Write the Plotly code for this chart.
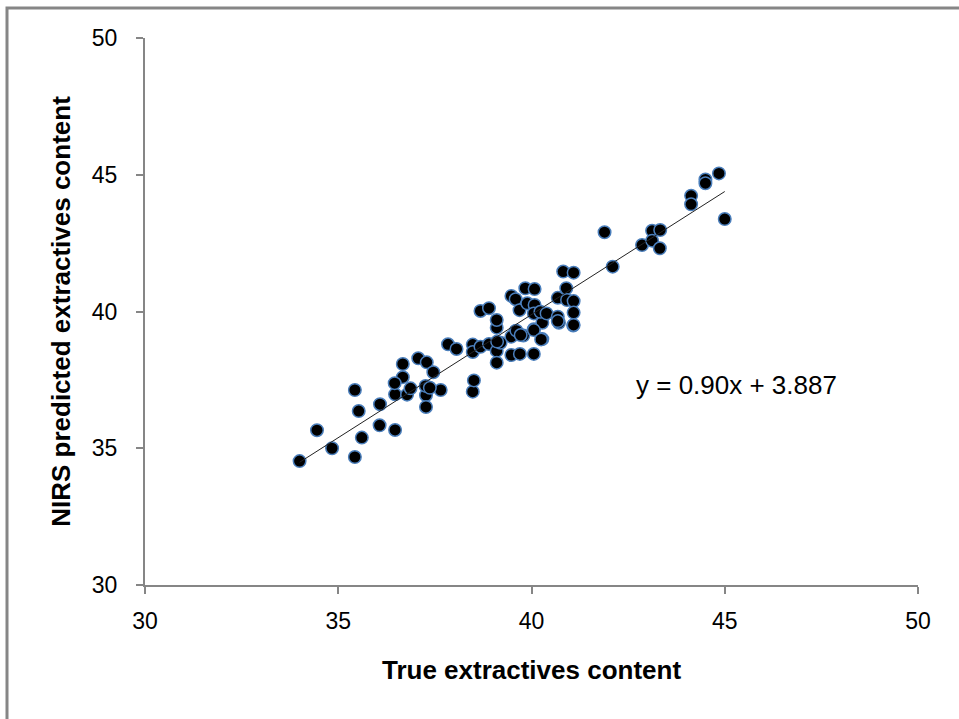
import plotly.graph_objects as go

true_content = [
    34.0, 34.45, 34.84, 35.43, 35.53, 35.61, 35.43, 36.08, 36.07, 36.47, 36.47, 36.78,
    37.27, 37.27, 37.65, 38.48, 36.67, 36.67, 36.46, 36.87, 37.07, 37.29, 37.46, 37.26,
    37.37, 37.84, 38.06, 38.48, 38.48, 38.68, 38.51, 38.90, 39.10, 39.10, 39.10, 39.10,
    39.20, 39.48, 39.70, 40.06, 39.59, 39.79, 40.06, 40.28, 40.28, 40.71, 41.08, 39.11,
    38.68, 38.90, 39.48, 39.61, 39.72, 39.48, 39.59, 39.69, 39.89, 39.84, 40.08, 40.08,
    40.06, 40.23, 40.39, 40.06, 40.25, 40.68, 40.68, 40.68, 40.90, 40.92, 41.09, 41.09,
    41.09, 40.82, 41.09, 41.89, 42.10, 42.86, 43.12, 43.33, 43.12, 43.32, 44.13, 44.13,
    44.50, 44.50, 44.85, 45.0,
]
predicted_content = [
    34.53, 35.66, 35.00, 34.68, 36.36, 35.39, 37.13, 36.61, 35.84, 35.67, 36.97, 36.96,
    36.94, 36.51, 37.13, 37.07, 38.08, 37.60, 37.38, 37.19, 38.29, 38.14, 37.78, 37.28,
    37.21, 38.80, 38.63, 38.79, 38.52, 38.71, 37.48, 38.81, 39.41, 39.69, 38.56, 38.13,
    38.86, 38.41, 38.45, 38.45, 39.29, 39.12, 39.35, 38.99, 39.59, 39.59, 39.49, 38.90,
    40.02, 40.12, 39.08, 39.30, 39.14, 40.57, 40.45, 40.05, 40.30, 40.85, 40.82, 40.24,
    39.93, 39.99, 39.93, 39.32, 38.98, 40.50, 39.81, 39.65, 40.85, 40.42, 40.38, 39.96,
    39.51, 41.46, 41.42, 42.90, 41.64, 42.43, 42.95, 42.98, 42.59, 42.31, 44.23, 43.92,
    44.83, 44.69, 45.05, 43.38,
]

slope = 0.90
intercept = 3.887
equation_label = "y = 0.90x + 3.887"
tick_vals = [30, 35, 40, 45, 50]

x_min, x_max = min(true_content), max(true_content)
trend_x = [x_min, x_max]
trend_y = [slope * v + intercept for v in trend_x]

FONT = "Liberation Sans, Arial"

fig = go.Figure()
fig.add_trace(go.Scatter(
    x=true_content, y=predicted_content, mode="markers",
    marker=dict(size=12.5, color="black", line=dict(color="#4A7EBB", width=1.5)),
    showlegend=False, hoverinfo="x+y",
))
fig.add_trace(go.Scatter(
    x=trend_x, y=trend_y, mode="lines",
    line=dict(color="#222222", width=1), showlegend=False,
))

axis_common = dict(
    range=[30, 50], tickvals=tick_vals, showgrid=False, zeroline=False,
    showline=True, linecolor="#868686", linewidth=2,
    ticks="outside", ticklen=7, tickwidth=2, tickcolor="#868686",
    tickfont=dict(family=FONT, size=23, color="black"),
)

fig.update_layout(
    width=959, height=719, autosize=False,
    margin=dict(l=145, r=41, t=38, b=134),
    plot_bgcolor="white", paper_bgcolor="white",
    xaxis=dict(**axis_common, ticklabelstandoff=7,
               title=dict(text="True extractives content", standoff=28,
                          font=dict(family=FONT, size=26, color="black", weight="bold"))),
    yaxis=dict(**axis_common, ticklabelstandoff=14,
               title=dict(text="NIRS predicted extractives content", standoff=14,
                          font=dict(family=FONT, size=26, color="black", weight="bold"))),
    annotations=[dict(
        x=42.66, y=37.31, xref="x", yref="y", xanchor="left", yanchor="middle",
        text=equation_label, showarrow=False,
        font=dict(family=FONT, size=26, color="black"),
    )],
    shapes=[dict(
        type="rect", xref="paper", yref="paper",
        x0=(7 - 145) / 773, x1=1.5, y0=-0.5, y1=(585 - 8) / 547,
        line=dict(color="#868686", width=3), fillcolor="rgba(0,0,0,0)", layer="below",
    )],
)

fig.write_html("out.html")
